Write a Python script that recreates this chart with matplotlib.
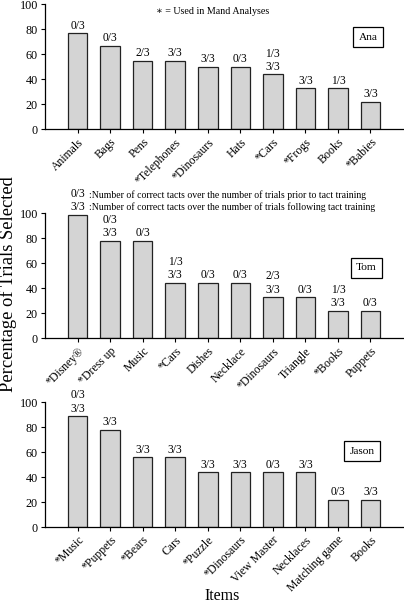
import matplotlib
matplotlib.use("Agg")
import matplotlib.pyplot as plt

plt.rcParams['font.family'] = ['Liberation Serif', 'DejaVu Serif']

ana_items = ["Animals", "Bags", "Pens", "*Telephones", "*Dinosaurs", "Hats",
             "*Cars", "*Frogs", "Books", "*Babies"]
ana_values = [77, 67, 55, 55, 50, 50, 44, 33, 33, 22]
ana_labels = ["0/3", "0/3", "2/3", "3/3", "3/3", "0/3", "1/3\n3/3", "3/3", "1/3", "3/3"]

tom_items = ["*Disney®", "*Dress up", "Music", "*Cars", "Dishes", "Necklace",
             "*Dinosaurs", "Triangle", "*Books", "Puppets"]
tom_values = [99, 78, 78, 44.5, 44.5, 44.5, 33, 33, 22, 22]
tom_labels = ["0/3\n3/3", "0/3\n3/3", "0/3", "1/3\n3/3", "0/3", "0/3", "2/3\n3/3",
              "0/3", "1/3\n3/3", "0/3"]

jason_items = ["*Music", "*Puppets", "*Bears", "Cars", "*Puzzle", "*Dinosaurs",
               "View Master", "Necklaces", "Matching game", "Books"]
jason_values = [89, 78, 56, 56, 44, 44, 44, 44, 22, 22]
jason_labels = ["0/3\n3/3", "3/3", "3/3", "3/3", "3/3", "3/3", "0/3", "3/3", "0/3", "3/3"]

W, H = 404, 603
fig = plt.figure(figsize=(W / 100, H / 100), dpi=100)

def px_rect(left, bottom_px, top_px, right=404):
    return [left / W, (H - bottom_px) / H, (right - left) / W, (bottom_px - top_px) / H]

panels = [
    (ana_items, ana_values, ana_labels, "Ana", px_rect(45, 129.3, 4.3), (368, 37)),
    (tom_items, tom_values, tom_labels, "Tom", px_rect(45, 338.3, 213.3), (366, 268)),
    (jason_items, jason_values, jason_labels, "Jason", px_rect(45, 527, 402.3), (362, 451)),
]

for items, values, labels, name, rect, namepos in panels:
    ax = fig.add_axes(rect)
    x = list(range(len(items)))
    ax.bar(x, values, width=0.6, color="#d4d4d4", edgecolor="#222222", linewidth=0.9)
    ax.set_xlim(-1, 10.03)
    ax.set_ylim(0, 100)
    ax.set_yticks([0, 20, 40, 60, 80, 100])
    ax.set_xticks(x)
    ax.set_xticklabels(items, rotation=45, ha="right", rotation_mode="anchor", fontsize=8.5)
    ax.tick_params(axis="y", labelsize=8.7, length=3, width=0.8, pad=2)
    ax.tick_params(axis="x", length=3, width=0.8, pad=2)
    for s in ["top", "right"]:
        ax.spines[s].set_visible(False)
    for s in ["left", "bottom"]:
        ax.spines[s].set_linewidth(0.9)
    ax.patch.set_alpha(0)
    for xi, v, lab in zip(x, values, labels):
        ax.annotate(lab, xy=(xi, v), xytext=(0, 1), textcoords="offset points",
                    ha="center", va="bottom", fontsize=8.3, linespacing=1.15,
                    annotation_clip=False)
    fig.text(namepos[0] / W, 1 - namepos[1] / H, name, ha="center", va="center",
             fontsize=8.2,
             bbox=dict(boxstyle="square,pad=0.45", facecolor="white",
                       edgecolor="black", linewidth=0.9))

fig.text(213 / W, 1 - 11 / H, "∗ = Used in Mand Analyses", ha="center", va="center",
         fontsize=7.2)
fig.text(89 / W, 1 - 195 / H, ":Number of correct tacts over the number of trials prior to tact training",
         ha="left", va="center", fontsize=7.0)
fig.text(89 / W, 1 - 207 / H, ":Number of correct tacts over the number of trials following tact training",
         ha="left", va="center", fontsize=7.0)

fig.text(8 / W, 1 - 284 / H, "Percentage of Trials Selected", rotation=90,
         ha="center", va="center", fontsize=13.3)
fig.text(222 / W, 1 - 596 / H, "Items", ha="center", va="center", fontsize=11.5)

fig.savefig("out.png", dpi=100)
